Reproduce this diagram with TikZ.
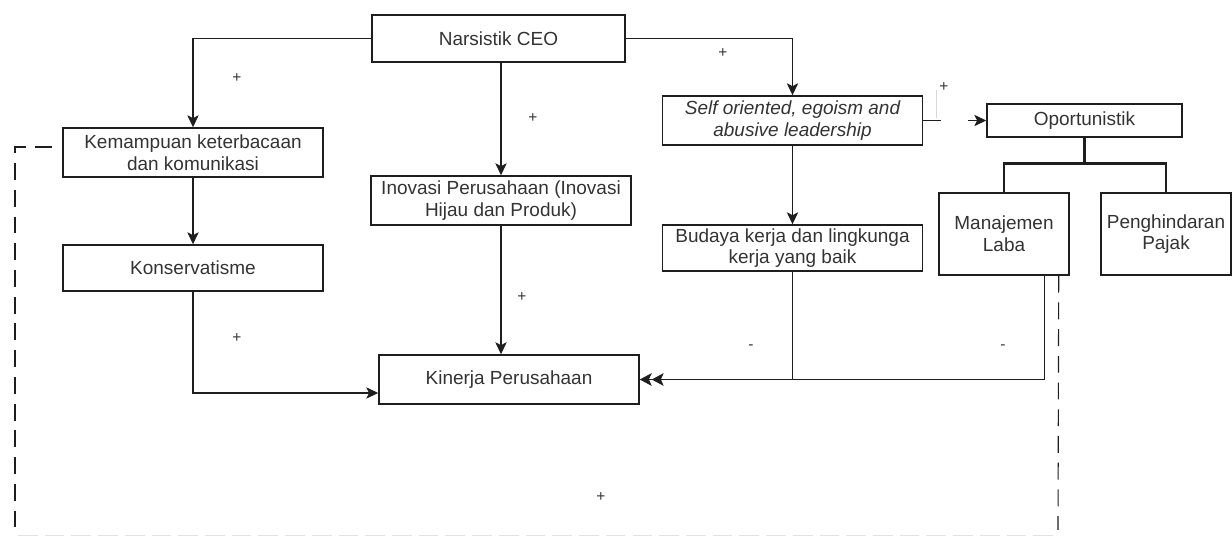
\documentclass[tikz,border=0pt]{standalone}
\usepackage{fontspec}
\setmainfont{Liberation Sans}
\usetikzlibrary{arrows.meta,calc}
\definecolor{txt}{HTML}{333333}
\definecolor{ln}{HTML}{1E1E1E}
\tikzset{
  box/.style={draw=ln, line width=1pt, fill=white, text=txt, align=center,
    font=\fontsize{13.5pt}{15.5pt}\selectfont, inner sep=2pt},
  conn/.style={draw=ln, line width=0.9pt},
  arr/.style={conn, -{Stealth[length=8.5pt,width=8pt,inset=2pt]}},
  darr/.style={conn, -{Stealth[length=8.5pt,width=9pt,inset=2pt]Stealth[length=8.5pt,width=9pt,inset=2pt]}},
  tree/.style={draw=ln, line width=1.8pt},
  dashline/.style={draw=ln, line width=0.8pt, dash pattern=on 12pt off 7pt},
  sign/.style={text=txt, font=\fontsize{11pt}{13pt}\selectfont, inner sep=0pt},
}
\begin{document}
\begin{tikzpicture}[x=0.025cm, y=-0.025cm]
\useasboundingbox (0,0) rectangle (1232,537);
% boxes
\node[box, minimum width=6.325cm, minimum height=1.175cm] (ceo) at (498.5,38.5) {Narsistik CEO};
\node[box, minimum width=6.5cm, minimum height=1.225cm] (kem) at (193,152.5) {Kemampuan keterbacaan\\dan komunikasi};
\node[box, minimum width=6.5cm, minimum height=1.15cm] (kon) at (193,268) {Konservatisme};
\node[box, minimum width=6.5cm, minimum height=1.225cm] (ino) at (501,200.5) {Inovasi Perusahaan (Inovasi\\Hijau dan Produk)};
\node[box, minimum width=6.5cm, minimum height=1.225cm] (kin) at (509,379.5) {Kinerja Perusahaan};
\node[box, minimum width=6.5cm, minimum height=1.225cm] (self) at (792.5,120.5) {\itshape Self oriented, egoism and\\\itshape abusive leadership};
\node[box, minimum width=6.5cm, minimum height=1.15cm] (bud) at (792.5,248) {Budaya kerja dan lingkunga\\kerja yang baik};
\node[box, minimum width=4.875cm, minimum height=0.825cm] (opo) at (1084.5,120.5) {Oportunistik};
\node[box, minimum width=3.25cm, minimum height=2.05cm] (man) at (1004,234) {Manajemen\\Laba};
\node[box, minimum width=3.25cm, minimum height=2.05cm] (pen) at (1166,234) {Penghindaran\\Pajak};
% connectors
\draw[arr] (ceo.west) -| (kem.north);
\draw[arr] (ino.north |- ceo.south) -- (ino.north);
\draw[arr] (ceo.east) -| (self.north);
\draw[arr] (kem.south) -- (kon.north);
\draw[arr] (self.south) -- (bud.north);
\draw[arr] (ino.south) -- (ino.south |- kin.north);
\draw[arr] (kon.south) |- ($(kin.west)+(0,13.5)$);
\coordinate (mj) at ($(man.south east)+(-25,0)$);
\draw[darr] (mj) |- (kin.east);
\draw[conn] (bud.south) -- (bud.south |- kin.east);
\coordinate (sx) at ($(self.east)+(18,0)$);
\draw[conn] (self.east) -- (sx);
\coordinate (ox) at ($(opo.west)+(-18,0)$);
\draw[arr] (ox) -- (opo.west);
\draw[gray!30, line width=0.5pt] (936,90) -- (936,118);
% tree
\coordinate (tj) at ($(opo.south)+(0,26)$);
\draw[tree] (opo.south) -- (tj);
\draw[tree] (man.north) |- (tj) -| (pen.north);
% dashed lines
\coordinate (dl) at (15,147);
\draw[dashline] ($(kem.west)+(-10,-5.5)$) -- (dl) -- (15,537);
\coordinate (dr) at ($(man.south east)+(-11,0)$);
\draw[dashline] (dr) -- (1058,530);
\draw[gray!22, line width=0.6pt, dash pattern=on 14pt off 5pt] (18,535) -- (1058,535);
% signs
\node[sign] (s1) at (237,78) {+};
\node[sign] (s2) at (533,118) {+};
\node[sign] (s3) at (522,297) {+};
\node[sign] (s4) at (723,53) {+};
\node[sign] (s5) at (944,87) {+};
\node[sign] (s6) at (237,338) {+};
\node[sign] (s7) at (601,497) {+};
\node[sign] (m1) at (751,347) {-};
\node[sign] (m2) at (1003,347) {-};
\end{tikzpicture}
\end{document}
